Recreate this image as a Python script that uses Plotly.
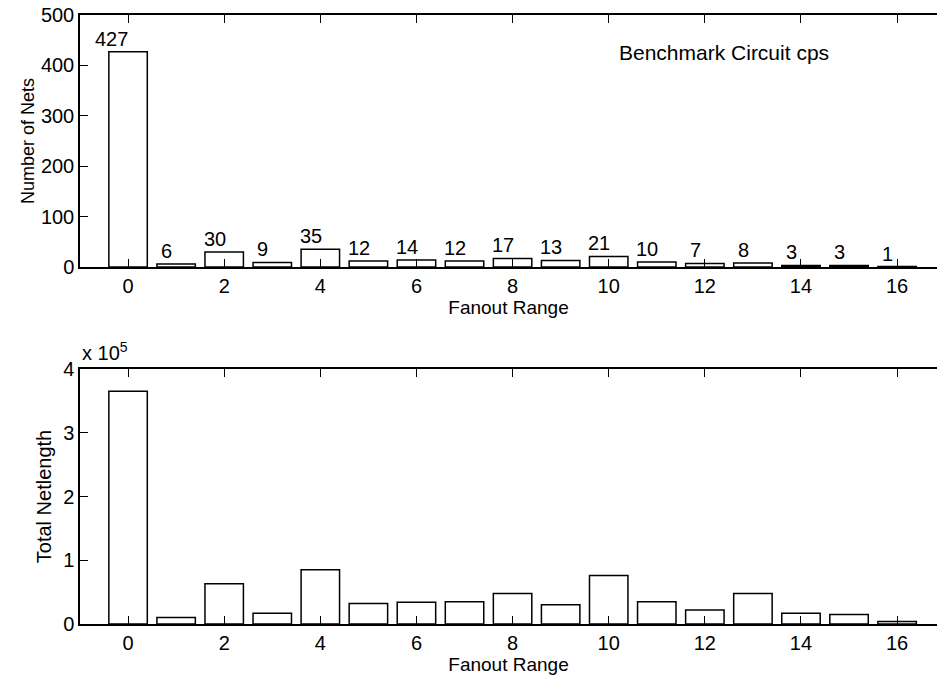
import plotly.graph_objects as go
from plotly.subplots import make_subplots

fanout = list(range(17))
num_nets = [427, 6, 30, 9, 35, 12, 14, 12, 17, 13, 21, 10, 7, 8, 3, 3, 1]
total_netlength = [365000, 10000, 63000, 17000, 85000, 32000, 34000, 35000, 48000,
                   30000, 76000, 35000, 22000, 48000, 17000, 15000, 4000]
x_ticks = [0, 2, 4, 6, 8, 10, 12, 14, 16]
y1_ticks = [0, 100, 200, 300, 400, 500]
y2_ticks = [0, 100000, 200000, 300000, 400000]
y2_ticktext = ["0", "1", "2", "3", "4"]

FONT = "Liberation Sans"
fig = make_subplots(rows=2, cols=1, vertical_spacing=0.1)

bar_style = dict(marker=dict(color="white", line=dict(color="black", width=1.5)),
                 width=0.8, showlegend=False, hoverinfo="x+y")
fig.add_trace(go.Bar(x=fanout, y=num_nets, **bar_style), row=1, col=1)
fig.add_trace(go.Bar(x=fanout, y=total_netlength, **bar_style), row=2, col=1)

axis_common = dict(showline=True, linecolor="black", linewidth=1.5, ticks="inside",
                   ticklen=8, tickwidth=1.2, tickcolor="black", showgrid=False,
                   zeroline=False, tickfont=dict(family=FONT, size=20, color="black"))
for r in (1, 2):
    fig.update_xaxes(range=[-1, 16.83], tickvals=x_ticks, mirror="ticks",
                     title=dict(text="Fanout Range", font=dict(family=FONT, size=19, color="black"),
                                standoff=1),
                     row=r, col=1, **axis_common)
fig.update_yaxes(range=[0, 500], tickvals=y1_ticks,
                 title=dict(text="Number of Nets", font=dict(family=FONT, size=18, color="black"),
                            standoff=2),
                 row=1, col=1, **axis_common)
fig.update_yaxes(range=[0, 400000], tickvals=y2_ticks, ticktext=y2_ticktext,
                 title=dict(text="Total Netlength", font=dict(family=FONT, size=20, color="black"),
                            standoff=6),
                 row=2, col=1, **axis_common)

for xi, v in zip(fanout, num_nets):
    off = -0.35 if v >= 100 else -0.2
    fig.add_annotation(x=xi + off, y=v, xref="x", yref="y", text=str(v), showarrow=False,
                       yanchor="bottom", yshift=0,
                       font=dict(family=FONT, size=20, color="black"))

fig.add_annotation(x=12.4, y=425, xref="x", yref="y", text="Benchmark Circuit cps",
                   showarrow=False, font=dict(family=FONT, size=21, color="black"))
fig.add_annotation(x=0, y=1.0, xref="x2 domain", yref="y2 domain", xanchor="left",
                   yanchor="bottom", yshift=3, text="x 10<sup>5</sup>", showarrow=False,
                   font=dict(family=FONT, size=20, color="black"))

fig.update_layout(width=937, height=680, margin=dict(l=80, r=0, t=15, b=56),
                  plot_bgcolor="white", paper_bgcolor="white", bargap=0.2)
fig.update_layout(xaxis=dict(domain=[0, 1]), yaxis=dict(domain=[0.5862, 1]),
                  xaxis2=dict(domain=[0, 1]), yaxis2=dict(domain=[0, 0.4187]))
fig.write_html("out.html")
